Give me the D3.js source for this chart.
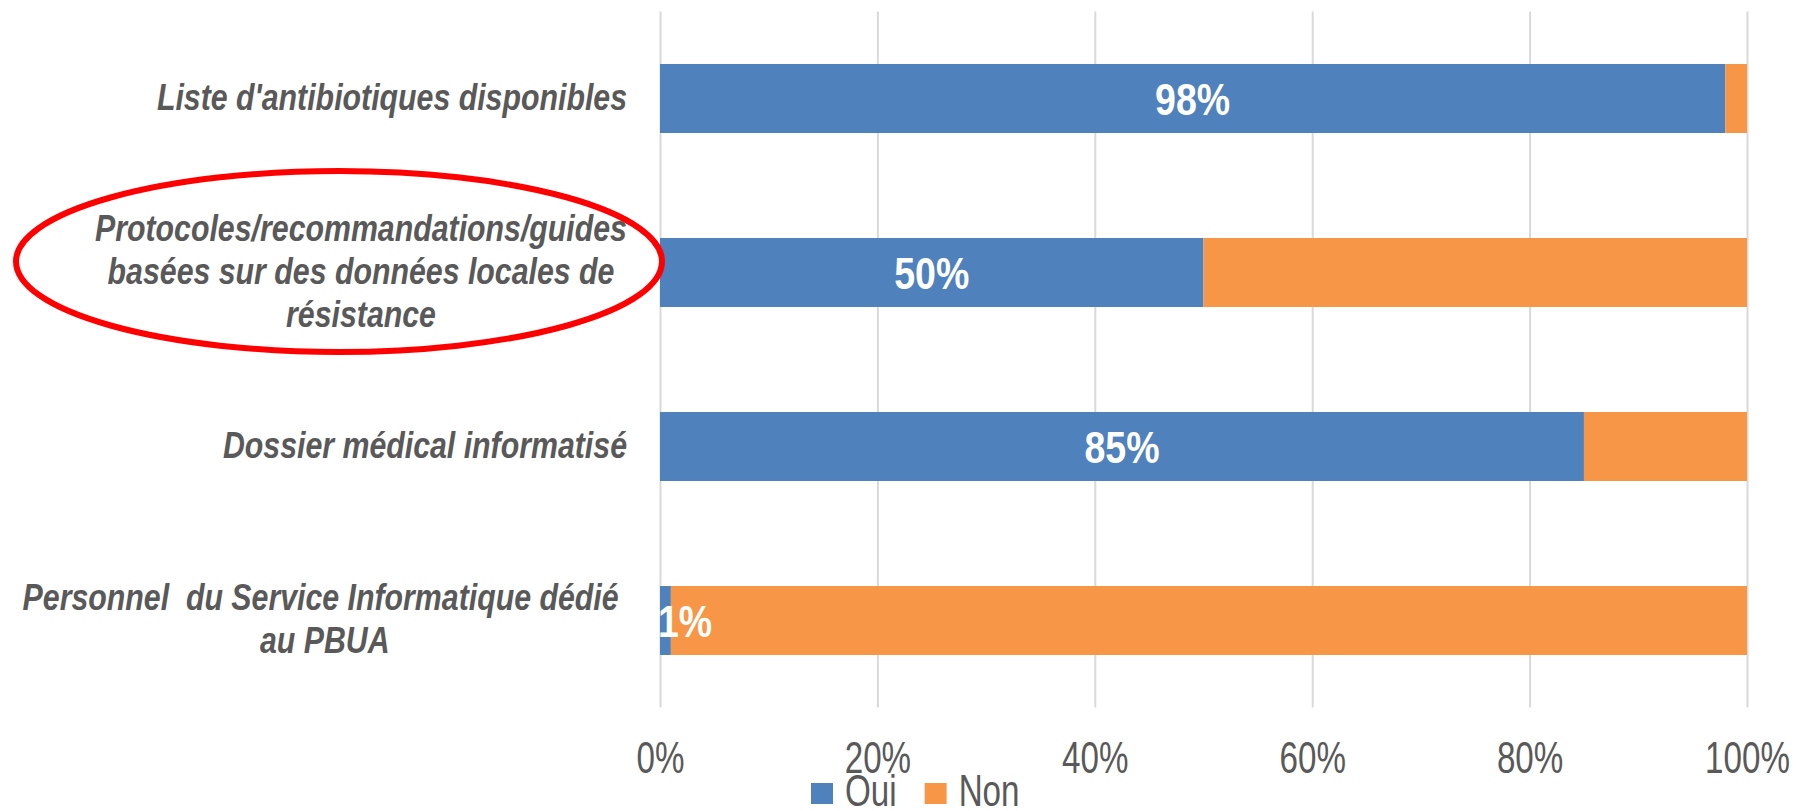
<!DOCTYPE html>
<html>
<head>
<meta charset="utf-8">
<script src="https://cdn.jsdelivr.net/npm/d3@7"></script>
<style>
    html, body { margin: 0; padding: 0; background: #fff; }
    svg { display: block; }
    text { white-space: pre; }
</style>
</head>
<body>
<div id="chart"></div>
<script>
// Data
const categories = [
    "Liste d'antibiotiques disponibles",
    "Protocoles/recommandations/guides\nbasées sur des données locales de\nrésistance",
    "Dossier médical informatisé",
    "Personnel  du Service Informatique dédié \nau PBUA"
];
const ouiValues = [98, 50, 85, 1];
const nonValues = [2, 50, 15, 99];
const seriesNames = ['Oui', 'Non'];
const xTicks = [0, 20, 40, 60, 80, 100];
const highlighted = categories[1];

// Style
const width = 1796;
const height = 811;
const colors = { Oui: '#4f81bd', Non: '#f79646' };
const textGray = '#595959';
const labelFont = { size: 30.3, stretch: 1.19 };
const tickFont = { size: 33.2, stretch: 1.33 };
const valueFont = { size: 37.5, stretch: 1.19 };

const svg = d3.select('#chart')
    .append('svg')
    .attr('width', width)
    .attr('height', height)
    .style('font-family', '"Liberation Sans", Arial, sans-serif');

svg.append('rect').attr('width', width).attr('height', height).attr('fill', '#fff');

const xScale = d3.scaleLinear()
    .domain([0, 100])
    .range([660, 1747]);

const yScale = d3.scaleBand()
    .domain(categories)
    .range([11.5, 707.5])
    .paddingInner(0.6034)
    .paddingOuter(0.3017);

const plotBottom = yScale.range()[1];
const plotTop = yScale.range()[0];

// vertical grid
svg.append('g')
    .attr('transform', 'translate(0,' + plotBottom + ')')
    .call(d3.axisBottom(xScale).tickValues(xTicks).tickSize(-(plotBottom - plotTop)).tickFormat(''))
    .call(g => g.select('.domain').remove())
    .selectAll('line')
    .attr('stroke', '#d9d9d9')
    .attr('stroke-width', 2);

// x tick labels
const xAxis = svg.append('g')
    .call(d3.axisBottom(xScale).tickValues(xTicks).tickSize(0).tickFormat(d => d + '%'));
xAxis.select('.domain').remove();
xAxis.selectAll('text')
    .attr('y', null)
    .attr('dy', null)
    .attr('transform', 'translate(0,773) scale(1,' + tickFont.stretch + ')')
    .attr('fill', textGray)
    .style('font-size', tickFont.size + 'px')
    .style('font-family', '"Liberation Sans", Arial, sans-serif');

// stacked bars
const rows = categories.map((c, i) => ({ cat: c, Oui: ouiValues[i], Non: nonValues[i] }));
const stacked = d3.stack().keys(seriesNames)(rows);

svg.append('g')
    .selectAll('g')
    .data(stacked)
    .join('g')
    .attr('fill', d => colors[d.key])
    .selectAll('rect')
    .data(d => d)
    .join('rect')
    .attr('x', d => xScale(d[0]))
    .attr('y', d => yScale(d.data.cat))
    .attr('width', d => xScale(d[1]) - xScale(d[0]))
    .attr('height', yScale.bandwidth());

// value labels (Oui)
svg.append('g')
    .selectAll('text')
    .data(rows)
    .join('text')
    .attr('transform', d => {
        const cx = Math.max((xScale(0) + xScale(d.Oui)) / 2, xScale(0) + 25);
        const cy = yScale(d.cat) + yScale.bandwidth() / 2 + 16.5;
        return 'translate(' + cx + ',' + cy + ') scale(1,' + valueFont.stretch + ')';
    })
    .attr('text-anchor', 'middle')
    .attr('fill', '#fff')
    .style('font-size', valueFont.size + 'px')
    .style('font-weight', 'bold')
    .text(d => d.Oui + '%');

// category labels
const labelRight = xScale(0) - 33;
const lineGap = 43;
const labelGroups = svg.append('g')
    .selectAll('g')
    .data(categories)
    .join('g');

labelGroups.each(function (cat) {
    const g = d3.select(this);
    const lines = cat.split('\n');
    const center = yScale(cat) + yScale.bandwidth() / 2;
    const texts = g.selectAll('text')
        .data(lines)
        .join('text')
        .attr('fill', textGray)
        .style('font-size', labelFont.size + 'px')
        .style('font-weight', 'bold')
        .style('font-style', 'italic')
        .text(d => d);
    const maxWidth = d3.max(texts.nodes(), n => n.getComputedTextLength());
    const cx = lines.length > 1 ? labelRight - maxWidth / 2 : labelRight;
    texts
        .attr('text-anchor', lines.length > 1 ? 'middle' : 'end')
        .attr('transform', (d, i) => {
            const by = center + 11 + (i - (lines.length - 1) / 2) * lineGap;
            return 'translate(' + cx + ',' + by + ') scale(1,' + labelFont.stretch + ')';
        });
});

// highlight ellipse round one label
const hlCenter = yScale(highlighted) + yScale.bandwidth() / 2;
svg.append('ellipse')
    .attr('cx', labelRight - 288)
    .attr('cy', hlCenter - 11)
    .attr('rx', 323)
    .attr('ry', 90.5)
    .attr('fill', 'none')
    .attr('stroke', '#ff0000')
    .attr('stroke-width', 6);

// legend
const legend = svg.append('g');
let lx = 811;
seriesNames.forEach(name => {
    legend.append('rect')
        .attr('x', lx)
        .attr('y', 783)
        .attr('width', 22)
        .attr('height', 21)
        .attr('fill', colors[name]);
    const t = legend.append('text')
        .attr('transform', 'translate(' + (lx + 34) + ',806) scale(1,' + tickFont.stretch + ')')
        .attr('fill', textGray)
        .style('font-size', tickFont.size + 'px')
        .text(name);
    lx += 34 + t.node().getComputedTextLength() + 28;
});
</script>
</body>
</html>
